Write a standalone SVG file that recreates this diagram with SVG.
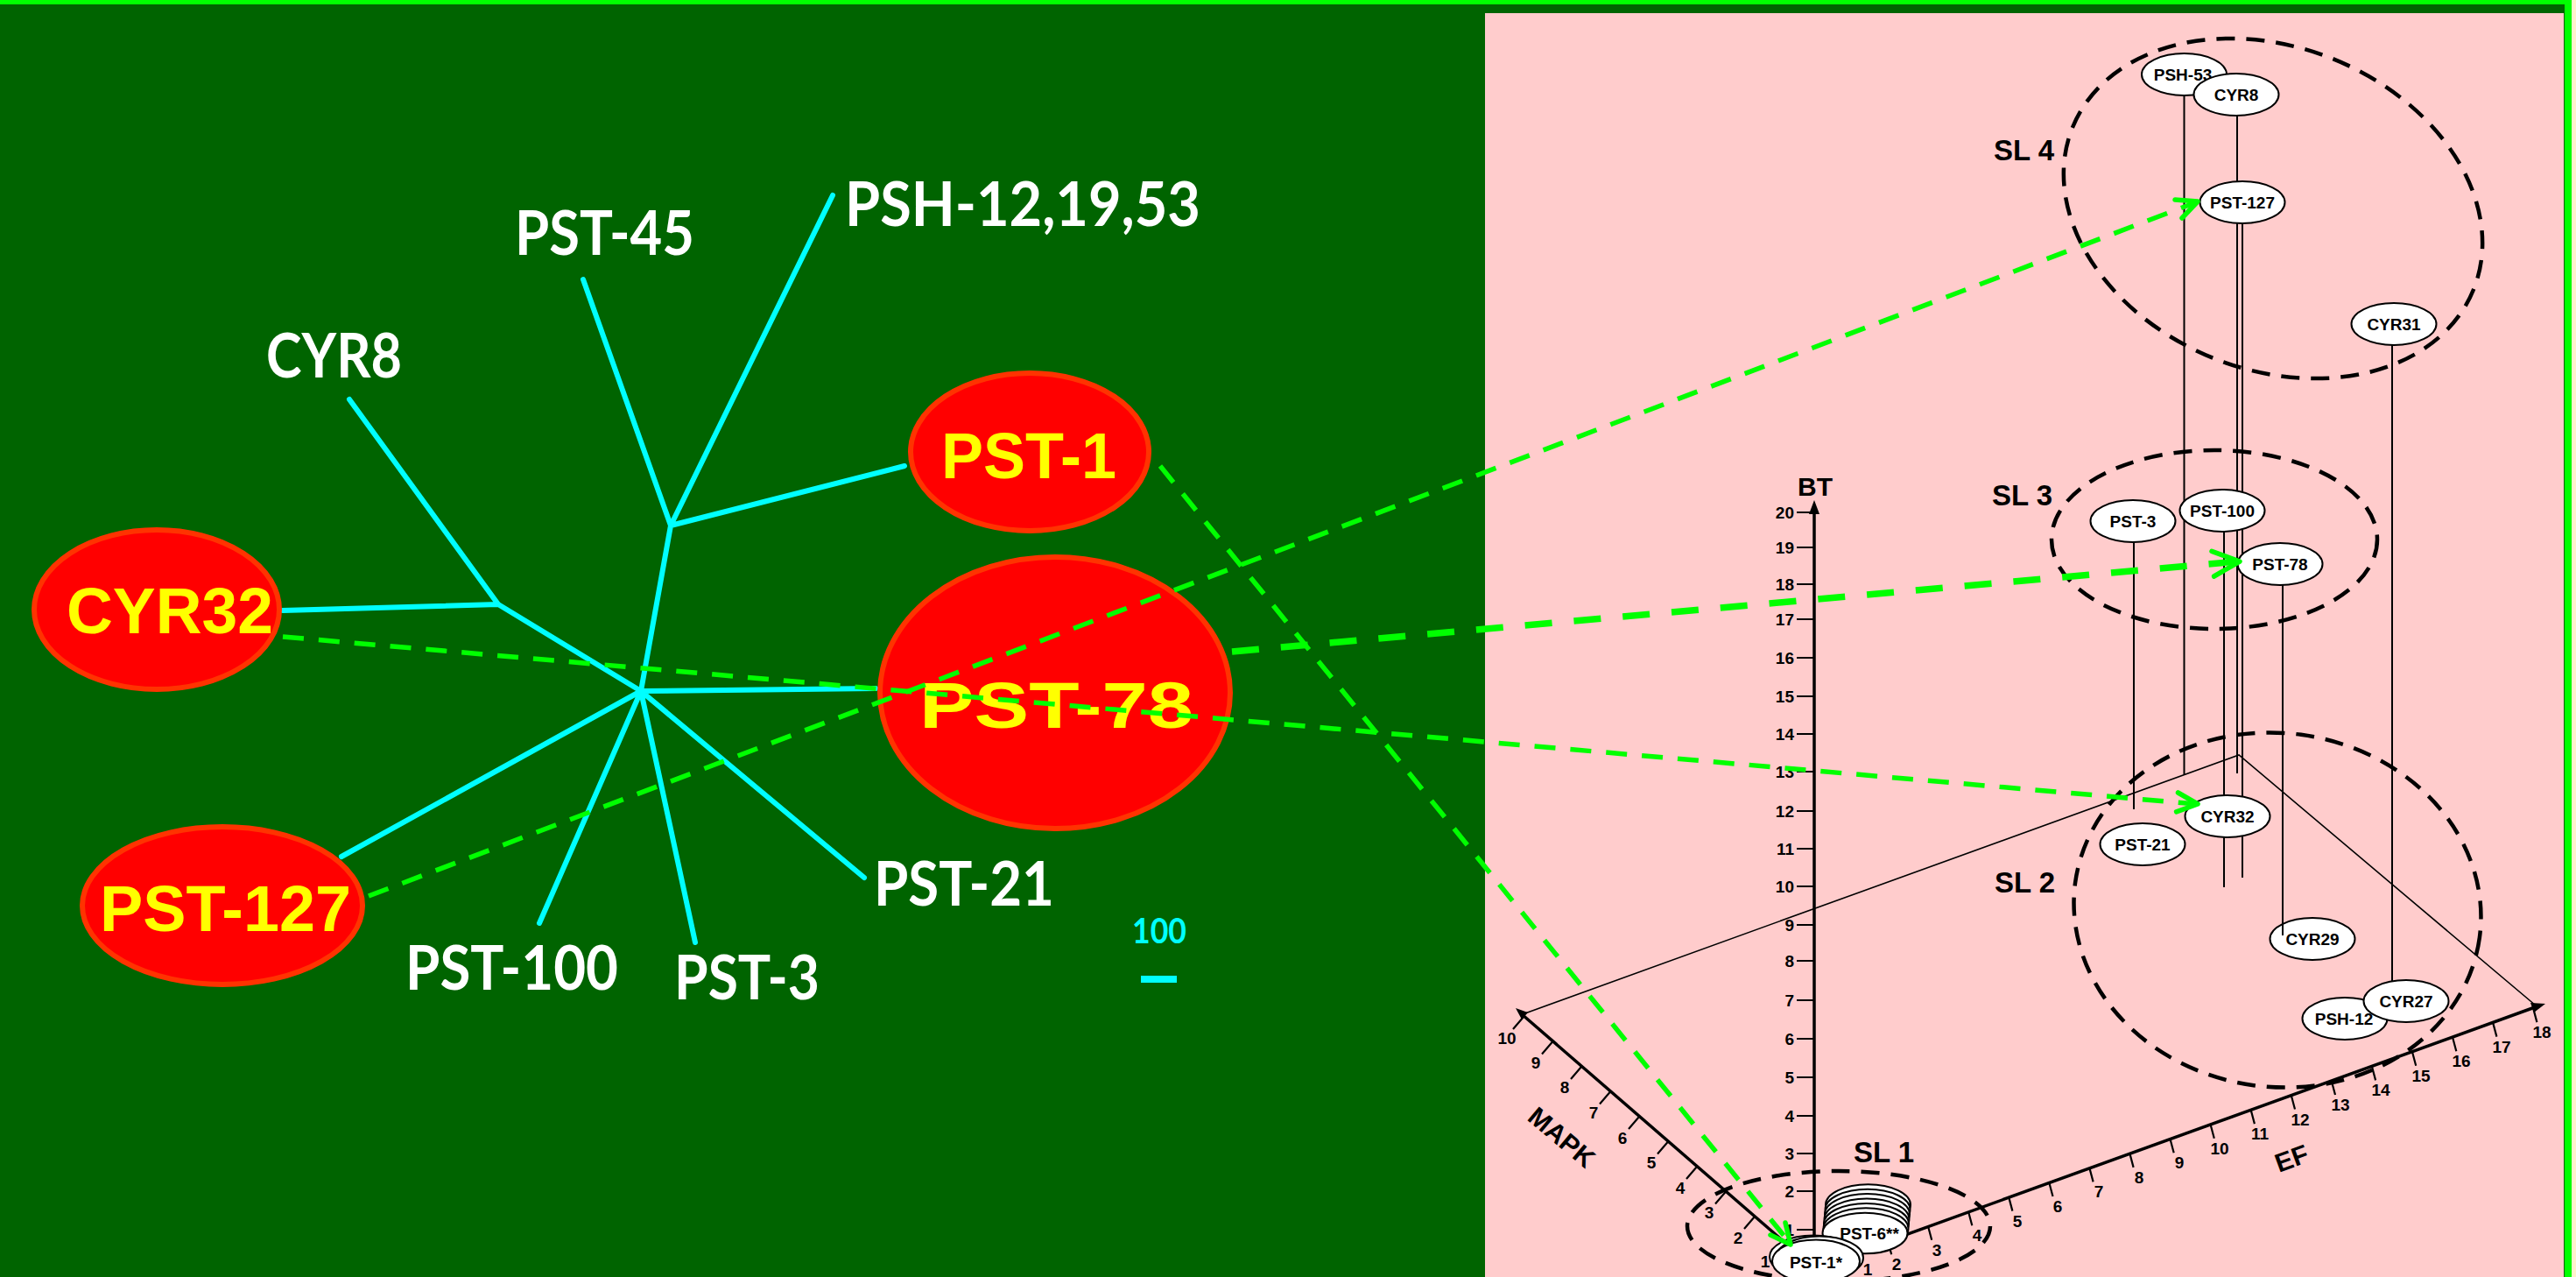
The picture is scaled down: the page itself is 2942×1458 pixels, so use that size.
<svg xmlns="http://www.w3.org/2000/svg" width="2942" height="1458" viewBox="0 0 2942 1458">
<defs>
<style>
.tree{stroke:#00ffff;stroke-width:6;stroke-linecap:round;stroke-linejoin:round;fill:none}
.wlab{font-family:Lato,"Liberation Sans",sans-serif;font-weight:bold;font-size:70px;fill:#ffffff}
.rnode{fill:#ff0000;stroke:#ff3300;stroke-width:6}
.rlab{font-family:"Liberation Sans",Arial,sans-serif;font-weight:bold;font-size:74px;fill:#ffff00}
.gl{stroke:#00ff00;stroke-width:5.5;fill:none;stroke-dasharray:24 17}
.glt{stroke:#00ff00;stroke-width:7.5;fill:none;stroke-dasharray:31 25}
.head{stroke:#00ff00;stroke-width:5.5;fill:none;stroke-linecap:round;stroke-linejoin:round}
.wnode{fill:#ffffff;stroke:#000000;stroke-width:2}
.nlab{font-family:"Liberation Sans",Arial,sans-serif;font-weight:bold;font-size:19px;fill:#000000;text-anchor:middle}
.drop{stroke:#000000;stroke-width:2;fill:none}
.axis{stroke:#000000;stroke-width:3.5;fill:none}
.tick{stroke:#000000;stroke-width:2.2;fill:none}
.tlr{font-family:"Liberation Sans",Arial,sans-serif;font-weight:bold;font-size:19px;fill:#000000;text-anchor:end}
.tlm{font-family:"Liberation Sans",Arial,sans-serif;font-weight:bold;font-size:19px;fill:#000000;text-anchor:middle}
.sl{fill:none;stroke:#000000;stroke-width:4.5;stroke-dasharray:21 13}
.sllab{font-family:"Liberation Sans",Arial,sans-serif;font-weight:bold;font-size:33px;fill:#000000}
.axlab{font-family:"Liberation Sans",Arial,sans-serif;font-weight:bold;font-size:30px;fill:#000000;text-anchor:middle}
.floor{stroke:#000000;stroke-width:1.6;fill:none}
</style>
</defs>

<!-- backgrounds and frame -->
<rect x="0" y="0" width="2942" height="1458" fill="#006400"/>
<rect x="0" y="0" width="2942" height="5" fill="#00ff00"/>
<rect x="1696" y="15" width="1232" height="1443" fill="#ffcccc"/>
<rect x="2929" y="0" width="8" height="1458" fill="#00ff00"/>
<rect x="2937" y="0" width="5" height="1458" fill="#fff2cc"/>

<!-- unrooted tree -->
<g id="tree">
<path class="tree" d="M732 789 L766 600 M666 319 L766 600 L951 223 M766 600 L1033 532 M732 789 L569 690 L399 456 M569 690 L323 697 M732 789 L390 978 M732 789 L616 1054 M732 789 L794 1076 M732 789 L987 1002 M732 789 L1000 786"/>
<line x1="1303" y1="1118" x2="1344" y2="1118" stroke="#00ffff" stroke-width="8"/>
<text x="1293" y="1077" font-family="Lato, 'Liberation Sans', sans-serif" font-weight="bold" font-size="40" fill="#00ffff" textLength="62" lengthAdjust="spacingAndGlyphs">100</text>
</g>

<!-- tree leaf labels -->
<g id="leaf-psh"><text class="wlab" x="965" y="258" textLength="406" lengthAdjust="spacingAndGlyphs">PSH-12,19,53</text></g>
<g id="leaf-pst45"><text class="wlab" x="588" y="291" textLength="205" lengthAdjust="spacingAndGlyphs">PST-45</text></g>
<g id="leaf-cyr8"><text class="wlab" x="304" y="431" textLength="155" lengthAdjust="spacingAndGlyphs">CYR8</text></g>
<g id="leaf-pst21"><text class="wlab" x="998" y="1034" textLength="206" lengthAdjust="spacingAndGlyphs">PST-21</text></g>
<g id="leaf-pst100"><text class="wlab" x="463" y="1130" textLength="243" lengthAdjust="spacingAndGlyphs">PST-100</text></g>
<g id="leaf-pst3"><text class="wlab" x="770" y="1141" textLength="166" lengthAdjust="spacingAndGlyphs">PST-3</text></g>

<!-- highlighted tree nodes -->
<g id="node-pst1">
<ellipse class="rnode" cx="1176" cy="516" rx="136" ry="90"/>
<text class="rlab" x="1075" y="546" textLength="200" lengthAdjust="spacingAndGlyphs">PST-1</text>
</g>
<g id="node-cyr32">
<ellipse class="rnode" cx="179" cy="696" rx="140" ry="91"/>
<text class="rlab" x="76" y="723" textLength="236" lengthAdjust="spacingAndGlyphs">CYR32</text>
</g>
<g id="node-pst127">
<ellipse class="rnode" cx="254" cy="1034" rx="160" ry="90"/>
<text class="rlab" x="114" y="1063" textLength="287" lengthAdjust="spacingAndGlyphs">PST-127</text>
</g>
<g id="node-pst78">
<ellipse class="rnode" cx="1205" cy="791" rx="200" ry="155" stroke-width="7"/>
<text class="rlab" x="1050" y="831" font-size="96" textLength="313" lengthAdjust="spacingAndGlyphs">PST-78</text>
</g>

<!-- 3D plot: floor edges -->
<g id="floor">
<polyline class="floor" points="1739,1158 2557,862 2896,1148"/>
</g>

<!-- BT axis -->
<g id="axis-bt">
<line class="axis" x1="2072" y1="1446" x2="2072" y2="580"/>
<polygon points="2072,571 2066,587 2078,587" fill="#000"/>
<text class="axlab" x="2073" y="566" font-size="26">BT</text>
<path class="tick" d="M2052 1404H2072M2052 1360H2072M2052 1317H2072M2052 1274H2072M2052 1230H2072M2052 1186H2072M2052 1142H2072M2052 1097H2072M2052 1056H2072M2052 1012H2072M2052 969H2072M2052 926H2072M2052 881H2072M2052 838H2072M2052 795H2072M2052 751H2072M2052 707H2072M2052 667H2072M2052 625H2072M2052 585H2072"/>
<text class="tlr" x="2049" y="1411">1</text>
<text class="tlr" x="2049" y="1367">2</text>
<text class="tlr" x="2049" y="1324">3</text>
<text class="tlr" x="2049" y="1281">4</text>
<text class="tlr" x="2049" y="1237">5</text>
<text class="tlr" x="2049" y="1193">6</text>
<text class="tlr" x="2049" y="1149">7</text>
<text class="tlr" x="2049" y="1104">8</text>
<text class="tlr" x="2049" y="1063">9</text>
<text class="tlr" x="2049" y="1019">10</text>
<text class="tlr" x="2049" y="976">11</text>
<text class="tlr" x="2049" y="933">12</text>
<text class="tlr" x="2049" y="888">13</text>
<text class="tlr" x="2049" y="845">14</text>
<text class="tlr" x="2049" y="802">15</text>
<text class="tlr" x="2049" y="758">16</text>
<text class="tlr" x="2049" y="714">17</text>
<text class="tlr" x="2049" y="674">18</text>
<text class="tlr" x="2049" y="632">19</text>
<text class="tlr" x="2049" y="592">20</text>
</g>

<!-- MAPK axis -->
<g id="axis-mapk">
<line class="axis" x1="2070" y1="1446" x2="1738" y2="1158"/>
<polygon points="1731,1151 1745,1156 1738,1164" fill="#000"/>
<path class="tick" d="M2037 1417.5l-12 14M2004 1389l-12 14M1971 1360.5l-12 14M1938 1332l-12 14M1905 1303.5l-12 14M1872 1275l-12 14M1839 1246.5l-12 14M1806 1218l-12 14M1773 1189.5l-12 14M1740 1161l-12 14"/>
<text class="tlm" x="2016" y="1447">1</text>
<text class="tlm" x="1985" y="1420">2</text>
<text class="tlm" x="1952" y="1391">3</text>
<text class="tlm" x="1919" y="1363">4</text>
<text class="tlm" x="1886" y="1334">5</text>
<text class="tlm" x="1853" y="1306">6</text>
<text class="tlm" x="1820" y="1277">7</text>
<text class="tlm" x="1787" y="1248">8</text>
<text class="tlm" x="1754" y="1220">9</text>
<text class="tlm" x="1721" y="1192">10</text>
<text class="axlab" transform="translate(1784 1298) rotate(40)" y="11">MAPK</text>
</g>

<!-- EF axis -->
<g id="axis-ef">
<line class="axis" x1="2064" y1="1450.5" x2="2895" y2="1150"/>
<polygon points="2907,1146 2894,1156 2890,1145" fill="#000"/>
<path class="tick" d="M2110.1 1433.9l4 15M2156.2 1417.3l4 15M2202.2 1400.8l4 15M2248.3 1384.2l4 15M2294.4 1367.6l4 15M2340.5 1351l4 15M2386.6 1334.4l4 15M2432.6 1317.9l4 15M2478.7 1301.3l4 15M2524.8 1284.7l4 15M2570.9 1268.1l4 15M2617 1251.5l4 15M2663 1235l4 15M2709.1 1218.4l4 15M2755.2 1201.8l4 15M2801.3 1185.2l4 15M2847.4 1168.6l4 15M2893.4 1152.1l4 15"/>
<text class="tlm" x="2133" y="1456">1</text>
<text class="tlm" x="2166" y="1450">2</text>
<text class="tlm" x="2212" y="1434">3</text>
<text class="tlm" x="2258" y="1417">4</text>
<text class="tlm" x="2304" y="1401">5</text>
<text class="tlm" x="2350" y="1384">6</text>
<text class="tlm" x="2397" y="1367">7</text>
<text class="tlm" x="2443" y="1351">8</text>
<text class="tlm" x="2489" y="1334">9</text>
<text class="tlm" x="2535" y="1318">10</text>
<text class="tlm" x="2581" y="1301">11</text>
<text class="tlm" x="2627" y="1285">12</text>
<text class="tlm" x="2673" y="1268">13</text>
<text class="tlm" x="2719" y="1251">14</text>
<text class="tlm" x="2765" y="1235">15</text>
<text class="tlm" x="2811" y="1218">16</text>
<text class="tlm" x="2857" y="1202">17</text>
<text class="tlm" x="2903" y="1185">18</text>
<text class="axlab" transform="translate(2617 1322) rotate(-20)" y="11">EF</text>
</g>

<!-- sensitivity levels -->
<g id="levels">
<ellipse class="sl" cx="2596" cy="238" rx="247" ry="184" transform="rotate(22 2596 238)"/>
<ellipse class="sl" cx="2529" cy="616" rx="186" ry="102"/>
<ellipse class="sl" cx="2601" cy="1039" rx="233" ry="202" transform="rotate(7.7 2601 1039)"/>
<ellipse class="sl" cx="2100" cy="1400" rx="173" ry="63"/>
<text class="sllab" x="2277" y="183">SL 4</text>
<text class="sllab" x="2275" y="577">SL 3</text>
<text class="sllab" x="2278" y="1019">SL 2</text>
<text class="sllab" x="2117" y="1327">SL 1</text>
</g>

<g id="node-r-cyr29">
<ellipse class="wnode" cx="2641" cy="1072" rx="48.5" ry="24"/>
<text class="nlab" x="2641" y="1079">CYR29</text>
</g>

<!-- vertical drop lines -->
<g id="drops">
<path class="drop" d="M2494.5 109V884M2555 132V883M2561 254V1002M2540 606V1013M2437 619V924M2607 668V1068M2732 394V1120"/>
</g>

<!-- isolate nodes in the 3D plot -->
<g id="node-r-psh53">
<ellipse class="wnode" cx="2494.5" cy="85" rx="48.5" ry="24"/>
<text class="nlab" x="2493" y="92">PSH-53</text>
</g>
<g id="node-r-cyr8">
<ellipse class="wnode" cx="2554" cy="108" rx="48.5" ry="24"/>
<text class="nlab" x="2554" y="115">CYR8</text>
</g>
<g id="node-r-pst127">
<ellipse class="wnode" cx="2561" cy="231" rx="48.5" ry="24"/>
<text class="nlab" x="2561" y="238">PST-127</text>
</g>
<g id="node-r-cyr31">
<ellipse class="wnode" cx="2734" cy="370" rx="48.5" ry="24"/>
<text class="nlab" x="2734" y="377">CYR31</text>
</g>
<g id="node-r-pst3">
<ellipse class="wnode" cx="2436" cy="595" rx="48.5" ry="24"/>
<text class="nlab" x="2436" y="602">PST-3</text>
</g>
<g id="node-r-pst100">
<ellipse class="wnode" cx="2538" cy="583" rx="48.5" ry="24"/>
<text class="nlab" x="2538" y="590">PST-100</text>
</g>
<g id="node-r-pst78">
<ellipse class="wnode" cx="2604" cy="644" rx="48.5" ry="24"/>
<text class="nlab" x="2604" y="651">PST-78</text>
</g>
<g id="node-r-cyr32">
<ellipse class="wnode" cx="2544" cy="932" rx="48.5" ry="24"/>
<text class="nlab" x="2544" y="939">CYR32</text>
</g>
<g id="node-r-pst21">
<ellipse class="wnode" cx="2447" cy="964" rx="48.5" ry="24"/>
<text class="nlab" x="2447" y="971">PST-21</text>
</g>
<g id="node-r-psh12">
<ellipse class="wnode" cx="2678" cy="1163" rx="48.5" ry="24"/>
</g>
<g id="node-r-cyr27">
<ellipse class="wnode" cx="2748" cy="1143" rx="48.5" ry="24"/>
<text class="nlab" x="2748" y="1150">CYR27</text>
</g>
<g id="label-r-psh12">
<text class="nlab" x="2677" y="1170">PSH-12</text>
</g>
<g id="node-r-pst6">
<ellipse class="wnode" cx="2133.5" cy="1375.6" rx="48.5" ry="23.3"/>
<ellipse class="wnode" cx="2133" cy="1381" rx="48.5" ry="23.3"/>
<ellipse class="wnode" cx="2132.5" cy="1386.4" rx="48.5" ry="23.3"/>
<ellipse class="wnode" cx="2132" cy="1391.8" rx="48.5" ry="23.3"/>
<ellipse class="wnode" cx="2131.5" cy="1397.2" rx="48.5" ry="23.3"/>
<ellipse class="wnode" cx="2131" cy="1402.6" rx="48.5" ry="23.3"/>
<ellipse class="wnode" cx="2130" cy="1408" rx="48.5" ry="23.3"/>
<text class="nlab" x="2135" y="1415">PST-6**</text>
</g>
<g id="node-r-pst1">
<ellipse class="wnode" cx="2071" cy="1435" rx="50" ry="24.5"/>
<ellipse class="wnode" cx="2078" cy="1436" rx="50" ry="24.5"/>
<ellipse class="wnode" cx="2074" cy="1440" rx="50" ry="24.5"/>
<text class="nlab" x="2074" y="1448">PST-1*</text>
</g>

<!-- links from tree nodes to plot positions -->
<g id="connectors">
<line class="gl" x1="323" y1="727" x2="2508" y2="918"/>
<polyline class="head" points="2487.5,905 2510,918 2485.6,926.9"/>
<line class="gl" x1="421" y1="1023" x2="2508" y2="231"/>
<polyline class="head" points="2484,228 2510,230 2492,249"/>
<line class="glt" x1="1407" y1="744" x2="2555" y2="641"/>
<polyline class="head" stroke-width="7.5" points="2526,629.4 2558,641 2528.6,658"/>
<line class="gl" x1="1325" y1="532" x2="2044" y2="1419"/>
<polyline class="head" points="2039,1396 2045,1421 2022,1410"/>
</g>
</svg>
